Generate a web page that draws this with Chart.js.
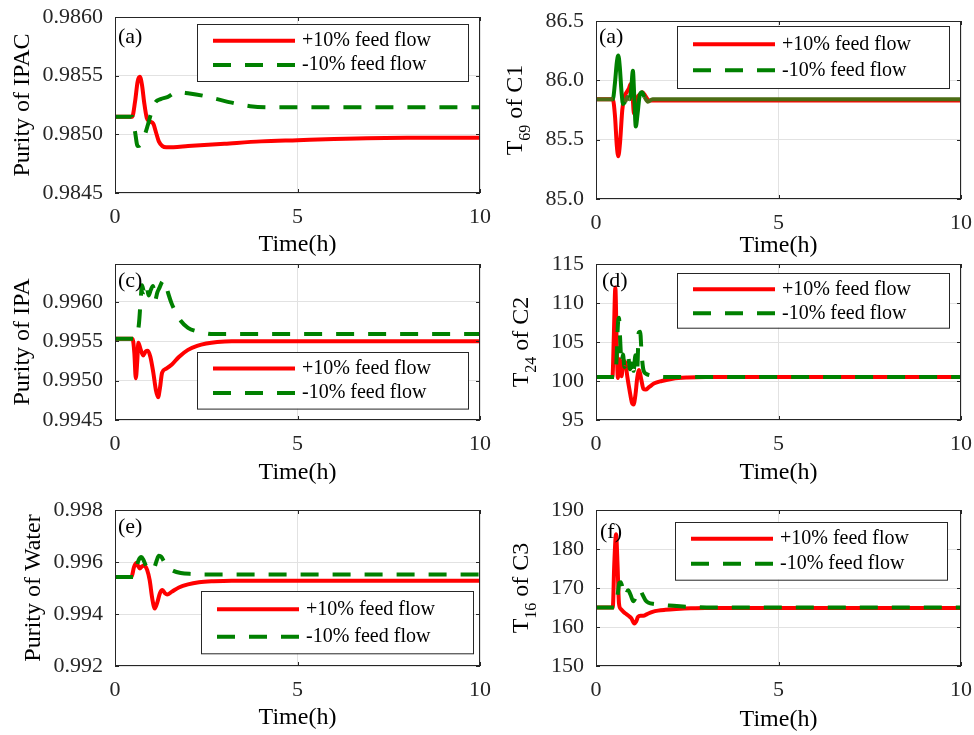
<!DOCTYPE html>
<html>
<head>
<meta charset="utf-8">
<title>Feed flow disturbance responses</title>
<script src="https://cdn.jsdelivr.net/npm/chart.js@4.4.0/dist/chart.umd.min.js"></script>
<style>
  html, body { margin: 0; padding: 0; background: #fff; }
  body { width: 974px; height: 735px; position: relative; overflow: hidden; }
  canvas { position: absolute; }
</style>
</head>
<body>
<canvas id="pa"></canvas>
<canvas id="pb"></canvas>
<canvas id="pc"></canvas>
<canvas id="pd"></canvas>
<canvas id="pe"></canvas>
<canvas id="pf"></canvas>
<script>
// series labels and axis ticks
var labelUp = '+10% feed flow';
var labelDn = '-10% feed flow';
var xTicks = ['0', '5', '10'];

// (a) purity of IPAC
var ticksA = ['0.9845', '0.9850', '0.9855', '0.9860'];
var tA_up = [0, 0.47, 0.55, 0.62, 0.68, 0.74, 0.8, 0.87, 0.95, 1.05, 1.12, 1.2, 1.3, 1.4, 1.6, 2, 3, 4, 5, 6, 8, 10];
var yA_up = [0.98515, 0.98515, 0.98528, 0.98545, 0.98549, 0.98542, 0.98527, 0.98514, 0.98511, 0.98509, 0.98502, 0.98494, 0.98490, 0.98489, 0.98489, 0.98490, 0.98492, 0.98494, 0.98495, 0.98496, 0.98497, 0.98497];
var tA_dn = [0, 0.48, 0.55, 0.62, 0.7, 0.8, 0.9, 1.0, 1.1, 1.25, 1.45, 1.7, 2.0, 2.4, 2.8, 3.2, 3.7, 4.2, 5, 6, 8, 10];
var yA_dn = [0.98515, 0.98515, 0.98502, 0.98490, 0.98491, 0.98498, 0.98508, 0.98519, 0.98527, 0.98530, 0.98532, 0.98536, 0.98535, 0.98533, 0.98530, 0.98527, 0.98524, 0.98523, 0.98523, 0.98523, 0.98523, 0.98523];

// (b) T69 of C1
var ticksB = ['85.0', '85.5', '86.0', '86.5'];
var tB_up = [0, 0.46, 0.52, 0.57, 0.61, 0.66, 0.72, 0.78, 0.84, 0.9, 0.95, 1.0, 1.04, 1.08, 1.14, 1.2, 1.27, 1.35, 1.45, 1.6, 2, 5, 10];
var yB_up = [85.84, 85.84, 85.70, 85.45, 85.36, 85.48, 85.75, 85.86, 85.90, 85.93, 85.97, 85.88, 85.72, 85.78, 85.86, 85.88, 85.90, 85.87, 85.83, 85.83, 85.83, 85.83, 85.83];
var tB_dn = [0, 0.46, 0.52, 0.57, 0.61, 0.65, 0.7, 0.74, 0.8, 0.86, 0.92, 0.97, 1.01, 1.05, 1.09, 1.14, 1.2, 1.26, 1.33, 1.42, 1.55, 2, 5, 10];
var yB_dn = [85.84, 85.84, 85.98, 86.15, 86.21, 86.12, 85.90, 85.80, 85.82, 85.86, 85.84, 85.95, 86.08, 85.85, 85.61, 85.72, 85.88, 85.90, 85.86, 85.82, 85.84, 85.84, 85.84, 85.84];

// (c) purity of IPA
var ticksC = ['0.9945', '0.9950', '0.9955', '0.9960'];
var tC_up = [0, 0.48, 0.53, 0.57, 0.61, 0.64, 0.7, 0.77, 0.84, 0.9, 0.97, 1.05, 1.12, 1.18, 1.23, 1.29, 1.4, 1.55, 1.75, 2.0, 2.25, 2.5, 2.8, 3.2, 4, 5, 10];
var yC_up = [0.99553, 0.99553, 0.99535, 0.99503, 0.99525, 0.99548, 0.99540, 0.99532, 0.99537, 0.99538, 0.99530, 0.99510, 0.99488, 0.99479, 0.99490, 0.99510, 0.99515, 0.99520, 0.99530, 0.99539, 0.99544, 0.99547, 0.99549, 0.99550, 0.99550, 0.99550, 0.99550];
var tC_dn = [0, 0.5, 0.6, 0.66, 0.7, 0.74, 0.8, 0.86, 0.92, 0.98, 1.04, 1.1, 1.16, 1.22, 1.3, 1.36, 1.45, 1.55, 1.65, 1.8, 2.0, 2.3, 2.7, 3.2, 5, 10];
var yC_dn = [0.99553, 0.99553, 0.99556, 0.99574, 0.99600, 0.99621, 0.99612, 0.99622, 0.99608, 0.99615, 0.99620, 0.99602, 0.99612, 0.99618, 0.99626, 0.99627, 0.99612, 0.99598, 0.99588, 0.99576, 0.99567, 0.99562, 0.99559, 0.99559, 0.99559, 0.99559];

// (d) T24 of C2
var ticksD = ['95', '100', '105', '110', '115'];
var tD_up = [0, 0.45, 0.49, 0.53, 0.57, 0.6, 0.65, 0.7, 0.75, 0.8, 0.86, 0.92, 0.98, 1.03, 1.08, 1.13, 1.18, 1.24, 1.3, 1.36, 1.45, 1.6, 1.8, 2.1, 2.5, 3, 5, 10];
var yD_up = [100.5, 100.5, 106, 112, 104, 100.4, 102.8, 100.6, 102.6, 102.4, 100.5, 98.8, 97.3, 97.0, 98.2, 100.4, 101.4, 100.2, 99.0, 98.9, 99.2, 99.7, 100.0, 100.3, 100.45, 100.5, 100.5, 100.5];
var tD_dn = [0, 0.52, 0.56, 0.6, 0.63, 0.66, 0.7, 0.74, 0.78, 0.83, 0.88, 0.93, 0.98, 1.03, 1.08, 1.13, 1.17, 1.21, 1.25, 1.3, 1.38, 1.5, 1.7, 2, 5, 10];
var yD_dn = [100.5, 100.5, 102.5, 107.2, 108.1, 105.5, 102.3, 103.4, 101.8, 102.5, 103.2, 101.5, 102.8, 101.3, 103.3, 101.6, 106.2, 106.3, 103.5, 101.4, 100.9, 100.7, 100.55, 100.5, 100.5, 100.5];

// (e) purity of water
var ticksE = ['0.992', '0.994', '0.996', '0.998'];
var tE_up = [0, 0.45, 0.52, 0.58, 0.63, 0.68, 0.74, 0.8, 0.88, 0.95, 1.02, 1.09, 1.16, 1.23, 1.3, 1.37, 1.43, 1.55, 1.75, 2.0, 2.3, 2.7, 3.2, 5, 10];
var yE_up = [0.99542, 0.99542, 0.99580, 0.99596, 0.99585, 0.99575, 0.99583, 0.99587, 0.99570, 0.99530, 0.99460, 0.99421, 0.99445, 0.99480, 0.99492, 0.99480, 0.99475, 0.99485, 0.99502, 0.99514, 0.99522, 0.99526, 0.99528, 0.99528, 0.99528];
var tE_dn = [0, 0.5, 0.57, 0.64, 0.72, 0.78, 0.85, 0.93, 1.0, 1.07, 1.14, 1.2, 1.27, 1.35, 1.45, 1.6, 1.8, 2.1, 2.5, 3, 5, 10];
var yE_dn = [0.99542, 0.99542, 0.99570, 0.99605, 0.99619, 0.99608, 0.99585, 0.99572, 0.99568, 0.99575, 0.99605, 0.99624, 0.99620, 0.99600, 0.99580, 0.99566, 0.99558, 0.99554, 0.99552, 0.99552, 0.99552, 0.99552];

// (f) T16 of C3
var ticksF = ['150', '160', '170', '180', '190'];
var tF_up = [0, 0.46, 0.5, 0.55, 0.59, 0.63, 0.68, 0.75, 0.82, 0.9, 0.97, 1.05, 1.1, 1.15, 1.22, 1.3, 1.4, 1.55, 1.7, 1.9, 2.2, 2.6, 3, 5, 10];
var yF_up = [165, 165, 176, 183.8, 176, 166, 164.6, 163.9, 163.4, 162.8, 162.2, 160.9, 161.4, 162.6, 162.9, 162.9, 163.3, 163.9, 164.2, 164.4, 164.6, 164.8, 164.9, 164.9, 164.9];
var tF_dn = [0, 0.52, 0.56, 0.6, 0.64, 0.68, 0.74, 0.8, 0.88, 0.95, 1.02, 1.08, 1.14, 1.2, 1.28, 1.36, 1.44, 1.6, 1.8, 2.0, 2.3, 2.7, 3.2, 5, 10];
var yF_dn = [165, 165, 166.2, 168.8, 171.3, 171.5, 169.5, 168.0, 169.4, 168.2, 166.6, 167.4, 169.2, 169.5, 168.2, 166.8, 166.2, 165.9, 165.7, 165.5, 165.3, 165.1, 165, 165, 165];

var FONT = "'Liberation Serif', 'Times New Roman', serif";
var RED = '#ff0000', GREEN = '#008000', OLIVE = '#4b6c14', INK = '#262626';
var DASH = [18, 14];

// area = [left, top, width, height] of the plot box on the page
var panels = [
  { id: 'pa', area: [115, 17, 365, 176], yRange: [0.9845, 0.9860], ticks: ticksA,
    up: [tA_up, yA_up], dn: [tA_dn, yA_dn], letter: '(a)', letterAt: [3, 25.7],
    yTitle: [{ t: 'Purity of IPAC' }], yTitleX: -86, xTitleY: 58, legend: [82, 7, 271, 57, 16.7, 41] },
  { id: 'pb', area: [596, 21, 365, 178], yRange: [85.0, 86.5], ticks: ticksB,
    up: [tB_up, yB_up], dn: [tB_dn, yB_dn], letter: '(a)', letterAt: [3, 22.3],
    yTitle: [{ t: 'T' }, { t: '69', sub: true }, { t: ' of C1' }], yTitleX: -74.5, xTitleY: 53,
    legend: [81, 4.7, 272, 62, 18.3, 44.3], blend: 85.84 },
  { id: 'pc', area: [115, 264, 365, 156], yRange: [0.9945, 0.99648], ticks: ticksC,
    up: [tC_up, yC_up], dn: [tC_dn, yC_dn], letter: '(c)', letterAt: [3, 23.3],
    yTitle: [{ t: 'Purity of IPA' }], yTitleX: -86, xTitleY: 59, legend: [82, 87.7, 271, 56.6, 16.6, 41] },
  { id: 'pd', area: [596, 264, 365, 156], yRange: [95, 115], ticks: ticksD,
    up: [tD_up, yD_up], dn: [tD_dn, yD_dn], letter: '(d)', letterAt: [6, 23.3],
    yTitle: [{ t: 'T' }, { t: '24', sub: true }, { t: ' of C2' }], yTitleX: -68, xTitleY: 59,
    legend: [81, 9, 272, 54.7, 16.3, 40.3] },
  { id: 'pe', area: [115, 510, 365, 156], yRange: [0.992, 0.998], ticks: ticksE,
    up: [tE_up, yE_up], dn: [tE_dn, yE_dn], letter: '(e)', letterAt: [3, 22.7],
    yTitle: [{ t: 'Purity of Water' }], yTitleX: -75, xTitleY: 58, legend: [85.7, 81, 272, 62.3, 18.3, 45.7] },
  { id: 'pf', area: [596, 510, 365, 156], yRange: [150, 190], ticks: ticksF,
    up: [tF_up, yF_up], dn: [tF_dn, yF_dn], letter: '(f)', letterAt: [4, 27.7],
    yTitle: [{ t: 'T' }, { t: '16', sub: true }, { t: ' of C3' }], yTitleX: -68, xTitleY: 60,
    legend: [79, 12.3, 272, 57.7, 16.7, 41.7] }
];

// box, inward ticks, legend, panel letter and axis titles
var decor = {
  id: 'decor',
  afterDraw: function (chart, args, o) {
    var ctx = chart.ctx, a = chart.chartArea;
    var xs = chart.scales.x, ys = chart.scales.y;
    ctx.save();
    ctx.strokeStyle = INK;
    ctx.lineWidth = 1;
    ctx.beginPath();
    ys.ticks.forEach(function (t) {
      var py = Math.round(ys.getPixelForValue(t.value)) + 0.5;
      ctx.moveTo(a.left, py); ctx.lineTo(a.left + 4, py);
      ctx.moveTo(a.right, py); ctx.lineTo(a.right - 4, py);
    });
    xs.ticks.forEach(function (t) {
      var px = Math.round(xs.getPixelForValue(t.value)) + 0.5;
      ctx.moveTo(px, a.bottom); ctx.lineTo(px, a.bottom - 4);
      ctx.moveTo(px, a.top); ctx.lineTo(px, a.top + 4);
    });
    ctx.stroke();
    ctx.strokeRect(a.left + 0.5, a.top + 0.5, a.right - a.left - 1, a.bottom - a.top - 1);

    // legend
    var L = o.legend, bx = Math.round(a.left + L[0]), by = Math.round(a.top + L[1]);
    ctx.fillStyle = '#fff';
    ctx.fillRect(bx, by, L[2], L[3]);
    ctx.strokeRect(bx + 0.5, by + 0.5, L[2], L[3]);
    chart.data.datasets.forEach(function (ds, i) {
      var ry = by + L[4 + i];
      ctx.strokeStyle = ds.borderColor;
      ctx.lineWidth = ds.borderWidth;
      ctx.setLineDash(ds.borderDash || []);
      ctx.beginPath(); ctx.moveTo(bx + 16, ry); ctx.lineTo(bx + 98, ry); ctx.stroke();
      ctx.setLineDash([]);
      ctx.fillStyle = '#000';
      ctx.font = '20px ' + FONT;
      ctx.textAlign = 'left';
      ctx.textBaseline = 'middle';
      ctx.fillText(ds.label, bx + 105, ry);
    });

    ctx.fillStyle = '#000';
    ctx.textBaseline = 'alphabetic';
    ctx.font = '22px ' + FONT;
    ctx.fillText(o.letter, a.left + o.letterAt[0], a.top + o.letterAt[1]);

    ctx.font = '24px ' + FONT;
    ctx.textAlign = 'center';
    ctx.fillText('Time(h)', (a.left + a.right) / 2, a.bottom + o.xTitleY);

    // rotated y title, with subscripts
    ctx.translate(a.left + o.yTitleX, (a.top + a.bottom) / 2);
    ctx.rotate(-Math.PI / 2);
    ctx.textAlign = 'left';
    var total = 0;
    o.yTitle.forEach(function (p) {
      ctx.font = (p.sub ? '16px ' : '24px ') + FONT;
      total += ctx.measureText(p.t).width;
    });
    var x = -total / 2;
    o.yTitle.forEach(function (p) {
      ctx.font = (p.sub ? '16px ' : '24px ') + FONT;
      ctx.fillText(p.t, x, p.sub ? 8 : 0);
      x += ctx.measureText(p.t).width;
    });
    ctx.restore();
  }
};

function pairs(t, y) {
  return t.map(function (v, i) { return { x: v, y: y[i] }; });
}

// room around the plot box; y tick padding makes Chart.js reserve ~26px above
var PAD_L = 110, PAD_T = 32, PAD_R = 32, PAD_B = 70;

panels.forEach(function (p) {
  var cv = document.getElementById(p.id);
  cv.width = p.area[2] + PAD_L + PAD_R;
  cv.height = p.area[3] + PAD_T + PAD_B;
  cv.style.left = (p.area[0] - PAD_L) + 'px';
  cv.style.top = (p.area[1] - PAD_T) + 'px';

  var green = {
    label: labelDn, data: pairs(p.dn[0], p.dn[1]), borderColor: GREEN, borderWidth: 4,
    borderDash: DASH, order: 1
  };
  if (p.blend !== undefined) {
    // green sits on the red trace here, so it reads as one solid olive line
    green.segment = {
      borderDash: function () { return []; },
      borderColor: function (c) {
        var near = Math.abs(c.p0.parsed.y - p.blend) < 0.03 && Math.abs(c.p1.parsed.y - p.blend) < 0.03;
        return near ? OLIVE : GREEN;
      }
    };
  }

  new Chart(cv, {
    type: 'line',
    data: {
      datasets: [
        { label: labelUp, data: pairs(p.up[0], p.up[1]), borderColor: RED, borderWidth: 4, order: 2 },
        green
      ]
    },
    options: {
      responsive: false,
      animation: false,
      devicePixelRatio: 1,
      layout: { padding: { left: 0, top: PAD_T, right: PAD_R, bottom: 0 } },
      elements: {
        point: { radius: 0 },
        line: { cubicInterpolationMode: 'monotone', fill: false, borderJoinStyle: 'round' }
      },
      plugins: {
        legend: { display: false },
        tooltip: { enabled: false },
        decor: p
      },
      scales: {
        x: {
          type: 'linear', min: 0, max: 10,
          afterBuildTicks: function (s) { s.ticks = xTicks.map(function (v) { return { value: parseFloat(v) }; }); },
          afterFit: function (s) { s.height = PAD_B; },
          grid: { color: '#e2e2e2', drawTicks: false },
          border: { display: false },
          ticks: {
            padding: 11, color: INK, font: { family: FONT, size: 22 }, maxRotation: 0,
            callback: function (v) { return String(v); }
          }
        },
        y: {
          type: 'linear', min: p.yRange[0], max: p.yRange[1],
          afterBuildTicks: function (s) { s.ticks = p.ticks.map(function (v) { return { value: parseFloat(v) }; }); },
          afterFit: function (s) { s.width = PAD_L; },
          grid: { color: '#e2e2e2', drawTicks: false },
          border: { display: false },
          ticks: {
            padding: 12, color: INK, font: { family: FONT, size: 22 },
            callback: function (v, i) { return p.ticks[i]; }
          }
        }
      }
    },
    plugins: [decor]
  });
});
</script>
</body>
</html>
